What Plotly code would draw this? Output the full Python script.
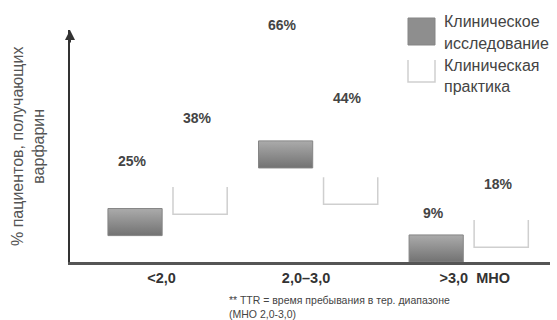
import plotly.graph_objects as go

categories = ["<2,0", "2,0–3,0", ">3,0  МНО"]
clinical = [25, 66, 9]      # Клиническое исследование
practice = [38, 44, 18]     # Клиническая практика
series_names = ["Клиническое исследование", "Клиническая практика"]

# layout constants (pixels)
L, R, T, B = 70, 7, 30, 58
W, H = 557, 320
PW, PH = W - L - R, H - T - B
XR = [-0.648, 2.54]
YR = [0, 70.3]
OFF, HW = 0.216, 0.18
CAP_H = 8.2

def cap_top(v):
    return 0.5 * v + 3.7

def px(xp):
    return (xp - L) / PW

def py(yp):
    return (H - B - yp) / PH

fig = go.Figure()

# clinical: gradient caps
for i, v in enumerate(clinical):
    t = cap_top(v)
    b = max(t - CAP_H, 0)
    xc = i - OFF
    fig.add_trace(go.Scatter(
        x=[xc - HW, xc + HW, xc + HW, xc - HW, xc - HW],
        y=[b, b, t, t, b],
        mode="lines", fill="toself",
        line=dict(color="#858585", width=1),
        fillgradient=dict(type="vertical",
                          colorscale=[[0, "#727272"], [1, "#ababab"]]),
        showlegend=False, hoverinfo="skip", name=series_names[0]))

# practice: open-top white caps
for i, v in enumerate(practice):
    t = cap_top(v)
    b = max(t - CAP_H, 0)
    xc = i + OFF
    fig.add_trace(go.Scatter(
        x=[xc - HW, xc - HW, xc + HW, xc + HW],
        y=[t, b, b, t],
        mode="lines", line=dict(color="#cfcfcf", width=1.5),
        showlegend=False, hoverinfo="skip", name=series_names[1]))

# value labels
annotations = []
for i, v in enumerate(clinical):
    annotations.append(dict(x=i - OFF - 0.02, y=v, xref="x", yref="y", yshift=19,
                            text=f"{v}%", showarrow=False,
                            font=dict(size=14, color="#444", family="Liberation Sans"),
                            xanchor="center", yanchor="middle"))
for i, v in enumerate(practice):
    annotations.append(dict(x=i + OFF - 0.02, y=v, xref="x", yref="y", yshift=19,
                            text=f"{v}%", showarrow=False,
                            font=dict(size=14, color="#444", family="Liberation Sans"),
                            xanchor="center", yanchor="middle"))

# y-axis title
annotations.append(dict(x=0, y=py(147), xref="paper", yref="paper", xshift=-42,
                        text="% пациентов, получающих<br>варфарин", textangle=-90,
                        showarrow=False, xanchor="center", yanchor="middle",
                        font=dict(size=16, color="#555", family="Liberation Sans")))

# y-axis arrow
annotations.append(dict(x=0, y=1.0, xref="paper", yref="paper", ax=0, ay=14,
                        text="", showarrow=True, arrowhead=2, arrowsize=1,
                        arrowwidth=2, arrowcolor="#333"))

# legend text
for txt, yy in [("Клиническое", 22), ("исследование", 44),
                ("Клиническая", 65), ("практика", 86)]:
    annotations.append(dict(x=px(442), y=py(yy), xref="paper", yref="paper",
                            text=txt, showarrow=False, xanchor="left", yanchor="middle",
                            font=dict(size=16, color="#444", family="Liberation Sans")))

# footnote
annotations.append(dict(x=px(227), y=py(292), xref="paper", yref="paper",
                        text="** TTR = время пребывания в тер. диапазоне<br>(МНО 2,0-3,0)",
                        showarrow=False, xanchor="left", yanchor="top", align="left",
                        font=dict(size=10.5, color="#444", family="Liberation Sans")))

shapes = [
    dict(type="rect", xref="paper", yref="paper",
         x0=px(408), x1=px(435), y0=py(45), y1=py(18),
         fillcolor="#8e8e8e", line=dict(color="#858585", width=1)),
    dict(type="path", xref="paper", yref="paper",
         path=f"M {px(408)} {py(60)} L {px(408)} {py(82)} L {px(435)} {py(82)} L {px(435)} {py(60)}",
         line=dict(color="#cfcfcf", width=1.5)),
]

nb = "\u00a0"
ticktext = ["<2,0" + nb * 3, "2,0–3,0" + nb * 6, nb * 3 + ">3,0" + nb * 2 + "МНО"]

fig.update_layout(
    width=W, height=H,
    margin=dict(l=L, r=R, t=T, b=B),
    paper_bgcolor="white", plot_bgcolor="white",
    annotations=annotations, shapes=shapes,
    showlegend=False,
    xaxis=dict(range=XR, tickvals=[0, 1, 2], ticktext=ticktext,
               showgrid=False, zeroline=False, showline=True,
               linecolor="#555", linewidth=2.5, ticks="outside", ticklen=1,
               tickcolor="rgba(0,0,0,0)",
               tickfont=dict(size=14.5, color="#333", family="Liberation Sans")),
    yaxis=dict(range=YR, showgrid=False, zeroline=False, showline=True,
               linecolor="#333", linewidth=2, showticklabels=False, ticks=""),
)
fig.update_xaxes(tickfont_weight="bold")
for a in fig.layout.annotations[:6]:
    a.font.weight = "bold"

fig.write_html("out.html")
